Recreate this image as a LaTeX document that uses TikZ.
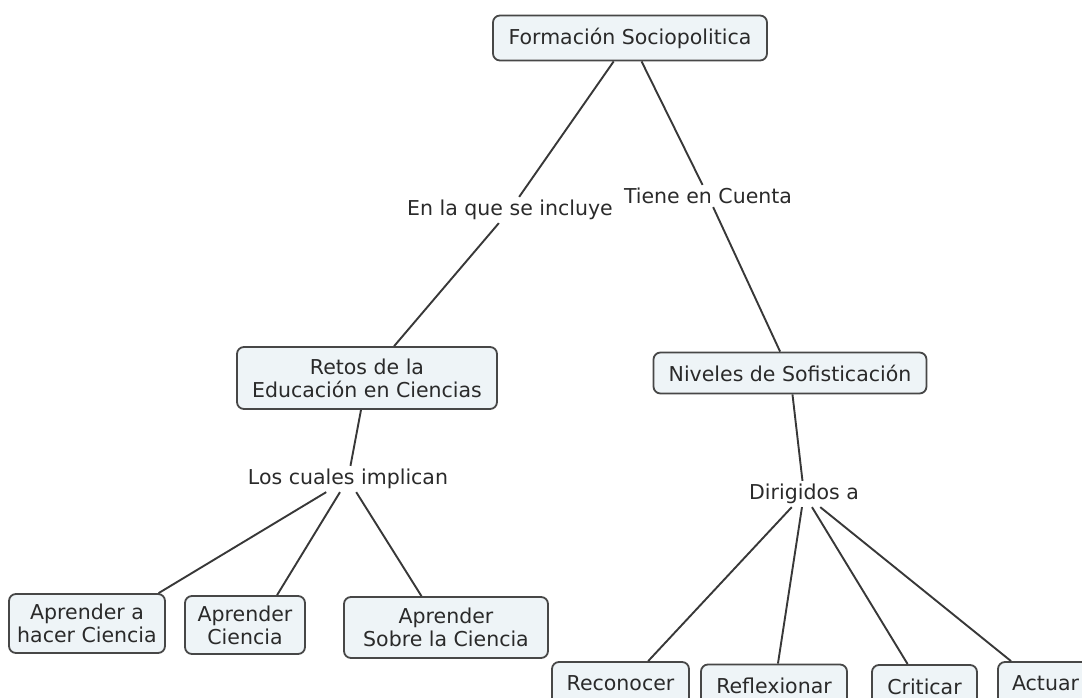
\documentclass[tikz,border=0pt]{standalone}
\usepackage{fontspec}
\setmainfont{DejaVu Sans}
\definecolor{boxfill}{HTML}{EEF4F7}
\definecolor{boxline}{HTML}{474747}
\definecolor{txtc}{HTML}{2A2A2A}
\definecolor{connc}{HTML}{383838}
\begin{document}
\begin{tikzpicture}[x=1pt,y=-1pt,
  box/.style={draw=boxline, line width=1.8pt, fill=boxfill, rounded corners=7pt,
    inner sep=0pt, align=center, text=txtc, font=\fontsize{20.5}{23}\selectfont},
  lbl/.style={inner sep=3pt, text=txtc, font=\fontsize{20.5}{23}\selectfont},
  conn/.style={draw=connc, line width=1.9pt}]
\useasboundingbox (0,0) rectangle (1082,698);
\clip (0,0) rectangle (1082,698);
% nodes
\node[box, minimum width=274pt, minimum height=45pt] (top) at (630,38) {Formación Sociopolitica};
\node[lbl] (lab1) at (510,210) {En la que se incluye};
\node[lbl] (lab2) at (708,196) {Tiene en Cuenta};
\node[box, minimum width=260pt, minimum height=62pt] (retos) at (367,378) {Retos de la\\Educación en Ciencias};
\node[box, minimum width=273pt, minimum height=41pt] (niv) at (790,373) {Niveles de Sofisticación};
\node[lbl] (los) at (348,479) {Los cuales implican};
\node[lbl] (dir) at (804,494) {Dirigidos a};
\node[box, minimum width=156pt, minimum height=59pt] (a1) at (87,623.5) {Aprender a\\hacer Ciencia};
\node[box, minimum width=120pt, minimum height=58pt] (a2) at (245,625) {Aprender\\Ciencia};
\node[box, minimum width=204pt, minimum height=61pt] (a3) at (446,627.5) {Aprender\\Sobre la Ciencia};
\node[box, minimum width=137pt, minimum height=43pt] (rec) at (620.5,683.5) {Reconocer};
\node[box, minimum width=146pt, minimum height=43pt] (refl) at (774,686) {Reflexionar};
\node[box, minimum width=105pt, minimum height=43pt] (crit) at (924.5,686.5) {Criticar};
\node[box, minimum width=95pt, minimum height=43pt] (act) at (1045.5,683.5) {Actuar};
% connectors
\draw[conn] (top) -- (lab1);
\draw[conn] (lab1) -- (retos);
\draw[conn] (top) -- (lab2);
\draw[conn] (lab2) -- (niv);
\draw[conn] (retos) -- (los);
\draw[conn] (los) -- (a1.23);
\draw[conn] (los) -- (a2.43);
\draw[conn] (los) -- (a3.128);
\draw[conn] (niv) -- (dir);
\draw[conn] (dir) -- (rec.39);
\draw[conn] (dir) -- (refl.80);
\draw[conn] (dir) -- (crit.127);
\draw[conn] (dir) -- (act.147);
\end{tikzpicture}
\end{document}
